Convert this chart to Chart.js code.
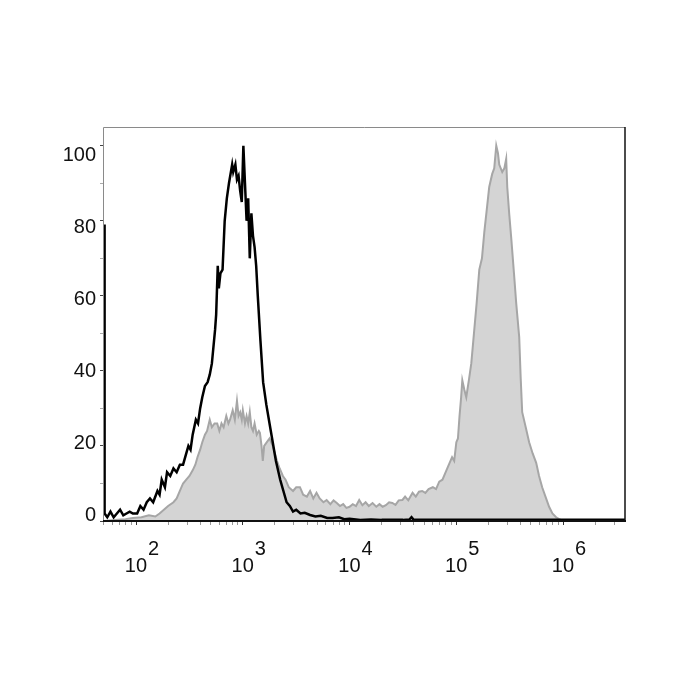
<!DOCTYPE html>
<html>
<head>
<meta charset="utf-8">
<script src="https://cdn.jsdelivr.net/npm/chart.js@4.4.0/dist/chart.umd.min.js"></script>
<style>
    html, body { margin: 0; padding: 0; background: #fff; }
    #wrap { width: 700px; height: 700px; }
</style>
</head>
<body>
<div id="wrap"><canvas id="histChart" width="700" height="700"></canvas></div>
<script>
// x values are in decades (log10 of fluorescence intensity), y is % of max
const decadeLabels = [2, 3, 4, 5, 6];
const yLabels = [0, 20, 40, 60, 80, 100];

// control (black outline)
const controlX = [1.70, 1.705, 1.73, 1.76, 1.79, 1.82, 1.85, 1.88, 1.91, 1.94, 1.97, 2.01, 2.04, 2.07, 2.10, 2.13, 2.16, 2.20, 2.22, 2.24,
    2.27, 2.29, 2.32, 2.35, 2.38, 2.41, 2.44, 2.47, 2.49, 2.51, 2.53, 2.56, 2.58, 2.60, 2.62, 2.645, 2.67, 2.69, 2.71, 2.74,
    2.75, 2.765, 2.775, 2.79, 2.81, 2.83, 2.85, 2.87, 2.90, 2.91, 2.93, 2.945, 2.96, 2.975, 2.99, 3.005, 3.02, 3.035, 3.05, 3.065,
    3.08, 3.095, 3.11, 3.125, 3.14, 3.165, 3.19, 3.22, 3.25, 3.28, 3.31, 3.35, 3.38, 3.41, 3.44, 3.47, 3.50, 3.54, 3.58, 3.63,
    3.68, 3.73, 3.79, 3.84, 3.90, 3.95, 4.00, 4.10, 4.20, 4.30, 4.40, 4.50, 4.56, 4.58, 4.60, 4.80, 5.00, 5.40, 5.80, 6.20, 6.58];
const controlY = [79, 2, 1, 2.5, 1, 2, 3, 1.5, 2, 2.5, 2, 2, 4, 3, 5, 6, 5, 8, 7, 11,
    9, 13, 12, 14, 13, 15, 15, 18, 20, 19, 23, 27, 26, 30, 33, 36, 37, 39, 42, 51,
    55, 68, 62, 66, 67, 80, 86, 90, 95, 93, 95, 91, 92, 88, 85, 100, 90, 80, 86, 70,
    82, 76, 73, 68, 60, 48, 37, 31, 26, 21, 16, 11, 8, 5, 4, 2.5, 3, 2, 2.2, 1.6,
    1.2, 1.4, 0.8, 0.8, 1, 0.5, 0.6, 0.3, 0.4, 0.3, 0.3, 0.3, 0.4, 1, 0.3, 0.3, 0.3, 0.3, 0.3, 0.3, 0.3];

// stained sample (grey filled)
const stainedX = [1.70, 1.80, 1.90, 1.97, 2.05, 2.12, 2.18, 2.22, 2.26, 2.30, 2.35, 2.38, 2.41, 2.44, 2.47, 2.50, 2.53, 2.555, 2.575, 2.60,
    2.62, 2.645, 2.665, 2.69, 2.71, 2.735, 2.76, 2.78, 2.80, 2.82, 2.845, 2.865, 2.88, 2.905, 2.925, 2.945, 2.96, 2.975, 2.99, 3.00,
    3.02, 3.035, 3.05, 3.065, 3.08, 3.095, 3.11, 3.13, 3.15, 3.16, 3.175, 3.187, 3.20, 3.225, 3.25, 3.28, 3.30, 3.32, 3.345, 3.375,
    3.40, 3.43, 3.47, 3.50, 3.535, 3.565, 3.60, 3.63, 3.66, 3.69, 3.72, 3.755, 3.785, 3.82, 3.85, 3.88, 3.91, 3.94, 3.97, 4.00,
    4.03, 4.06, 4.09, 4.12, 4.15, 4.18, 4.215, 4.25, 4.28, 4.31, 4.34, 4.37, 4.40, 4.43, 4.46, 4.495, 4.52, 4.55, 4.59, 4.62,
    4.65, 4.68, 4.71, 4.74, 4.78, 4.81, 4.84, 4.87, 4.90, 4.93, 4.96, 4.98, 5.00, 5.015, 5.03, 5.045, 5.056, 5.075, 5.093, 5.12,
    5.14, 5.165, 5.19, 5.215, 5.24, 5.262, 5.285, 5.308, 5.336, 5.355, 5.374, 5.39, 5.402, 5.43, 5.45, 5.467, 5.477, 5.495, 5.514, 5.54,
    5.561, 5.589, 5.603, 5.617, 5.65, 5.682, 5.715, 5.748, 5.775, 5.804, 5.835, 5.869, 5.90, 5.935, 5.963, 6.00, 6.58];
const stainedY = [0, 0.3, 0.5, 0.8, 1, 1.5, 1.2, 2, 3, 4, 5, 6, 8, 10, 11, 12, 13.5, 15, 17, 19,
    21, 23, 24, 27, 25, 26, 26, 24, 26, 25, 28, 26, 27, 29.5, 27, 32, 28, 29, 27, 29.5,
    26, 28, 26, 29, 25, 24, 26, 23, 24, 23.5, 20, 16, 20, 21, 22, 20, 18, 16, 14, 12,
    11, 9, 8, 9, 9, 7, 6.5, 8, 6, 7.5, 6, 5, 5.6, 4.5, 5.5, 4.8, 4, 4.5, 3.5, 3.8,
    4.5, 4, 5.6, 4.2, 5, 4, 4.8, 3.8, 4.5, 3.8, 4.2, 5, 4.8, 4.3, 5.5, 5.6, 6.5, 5.5, 7.5, 6.5,
    7.8, 8, 7.5, 8.5, 9, 8.5, 10.5, 11, 13, 15, 17, 16, 21, 22, 28, 33, 37.5, 35, 33, 38,
    42, 50, 58, 67, 70, 77, 83, 89, 92.5, 94, 100, 98, 95, 93, 94, 96.5, 89, 82, 75.5, 66,
    58, 49, 38, 29, 25, 21, 18, 15.5, 12, 9, 6.5, 3.8, 2, 1, 0.5, 0, 0];

const xMin = 1.69;
const xMax = 6.58;
const yMin = 0;
const yMax = 105;

const toPoints = (xs, ys) => xs.map((x, i) => ({ x: x, y: ys[i] }));

// decade + minor (2..9) tick positions for the log-style axis
function logTicks() {
    const ticks = [];
    for (let n = 1; n <= 6; n++) {
        for (let k = 1; k <= 9; k++) {
            const v = n + Math.log10(k);
            if (v >= xMin && v <= xMax) ticks.push({ value: v });
        }
    }
    return ticks;
}

const FONT = '"Liberation Sans", Arial, sans-serif';

const axisPlugin = {
    id: 'axisDecor',
    afterDraw(chart) {
        const ctx = chart.ctx;
        const a = chart.chartArea;
        const xs = chart.scales.x;
        const ys = chart.scales.y;
        ctx.save();

        // frame: grey top/left, black right/bottom
        ctx.lineWidth = 1;
        ctx.strokeStyle = '#8a8a8a';
        ctx.beginPath();
        ctx.moveTo(a.left + 0.5, a.bottom);
        ctx.lineTo(a.left + 0.5, a.top + 0.5);
        ctx.lineTo(a.right, a.top + 0.5);
        ctx.stroke();
        ctx.strokeStyle = '#111';
        ctx.lineWidth = 1.5;
        ctx.beginPath();
        ctx.moveTo(a.right, a.top);
        ctx.lineTo(a.right, a.bottom);
        ctx.stroke();
        ctx.lineWidth = 2;
        ctx.beginPath();
        ctx.moveTo(a.left, a.bottom);
        ctx.lineTo(a.right + 1, a.bottom);
        ctx.stroke();

        ctx.fillStyle = '#111';
        ctx.font = '20px ' + FONT;

        // y labels
        ctx.textAlign = 'right';
        ctx.textBaseline = 'middle';
        yLabels.forEach(v => {
            const off = 10 * v / 100 - 6 * (1 - v / 100);
            ctx.fillText(String(v), a.left - 7, ys.getPixelForValue(v) + off);
        });

        // x labels: 10 with raised exponent
        ctx.textBaseline = 'alphabetic';
        decadeLabels.forEach(n => {
            const px = xs.getPixelForValue(n);
            ctx.textAlign = 'right';
            ctx.fillText('10', px + 11, a.bottom + 51);
            ctx.textAlign = 'left';
            ctx.fillText(String(n), px + 12, a.bottom + 34);
        });
        ctx.restore();
    }
};

new Chart(document.getElementById('histChart'), {
    type: 'line',
    data: {
        datasets: [
            {
                label: 'Control',
                data: toPoints(controlX, controlY),
                borderColor: '#000',
                borderWidth: 2.5,
                pointRadius: 0,
                tension: 0,
                fill: false
            },
            {
                label: 'Stained',
                data: toPoints(stainedX, stainedY),
                borderColor: '#a6a6a6',
                backgroundColor: '#d4d4d4',
                borderWidth: 2,
                pointRadius: 0,
                tension: 0,
                fill: 'origin'
            }
        ]
    },
    options: {
        responsive: false,
        animation: false,
        events: [],
        layout: { padding: { top: 127, right: 75, left: 0, bottom: 0 } },
        plugins: {
            legend: { display: false },
            tooltip: { enabled: false }
        },
        scales: {
            x: {
                type: 'linear',
                min: xMin,
                max: xMax,
                afterBuildTicks: scale => { scale.ticks = logTicks(); },
                afterFit: scale => { scale.height = 179; },
                border: { display: false },
                grid: {
                    drawOnChartArea: false,
                    drawTicks: true,
                    tickLength: 4,
                    color: c => (c.tick && Number.isInteger(Math.round(c.tick.value * 1000) / 1000) ? '#333' : '#999')
                },
                ticks: { callback: () => '', padding: 0 }
            },
            y: {
                min: yMin,
                max: yMax,
                afterBuildTicks: scale => {
                    const t = [];
                    for (let v = 0; v <= 100; v += 10) t.push({ value: v });
                    scale.ticks = t;
                },
                afterFit: scale => { scale.width = 103; },
                border: { display: false },
                grid: {
                    drawOnChartArea: false,
                    drawTicks: true,
                    tickLength: 3,
                    color: c => (c.tick && c.tick.value % 20 === 0 ? '#444' : '#aaa')
                },
                ticks: { callback: () => '', padding: 0 }
            }
        }
    },
    plugins: [axisPlugin]
});
</script>
</body>
</html>
